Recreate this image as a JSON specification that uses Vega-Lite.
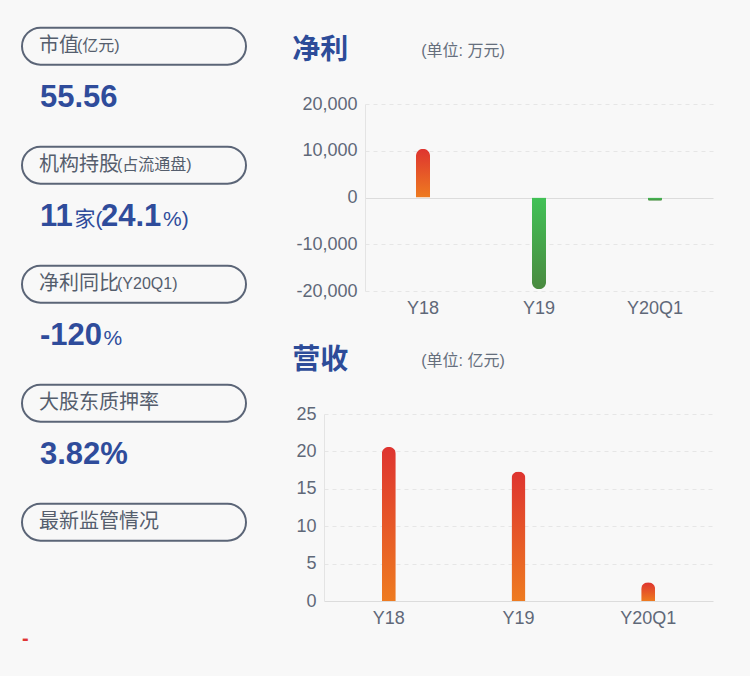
{
  "$schema": "https://vega.github.io/schema/vega-lite/v6.json",
  "background": "#f8f8f8",
  "padding": {"left": 21, "top": 26, "right": 37, "bottom": 0},
  "bounds": "flush",
  "spacing": 78,
  "config": {
    "view": {"stroke": null},
    "font": "Liberation Sans, Noto Sans CJK SC",
    "axis": {"labelFont": "Liberation Sans, Noto Sans CJK SC", "titleFont": "Liberation Sans, Noto Sans CJK SC"}
  },
  "hconcat": [
    {
      "width": 224,
      "height": 572,
      "data": {"values": [
        {"k": "1", "label": "市值", "suffix": "(亿元)", "v1": "55.56"},
        {"k": "2", "label": "机构持股", "suffix": "(占流通盘)", "v1": "11", "v2": "家(", "v3": "24.1", "v4": "%)"},
        {"k": "3", "label": "净利同比", "suffix": "(Y20Q1)", "v1": "-120", "v2": "%"},
        {"k": "4", "label": "大股东质押率", "v1": "3.82%"},
        {"k": "5", "label": "最新监管情况", "mark": "-"}
      ]},
      "encoding": {
        "y": {"field": "k", "type": "ordinal", "scale": {"range": [-76.3, 436.7], "paddingInner": 0.68908, "paddingOuter": 0}, "axis": null}
      },
      "layer": [
        {"mark": {"type": "rect", "filled": false, "stroke": "#5b6577", "strokeWidth": 2, "cornerRadius": 18.5},
         "encoding": {"x": {"value": 0}, "x2": {"value": "width"}}},
        {"mark": {"type": "text", "align": "left", "baseline": "middle", "fontSize": 20, "color": "#555e6d"},
         "encoding": {"x": {"value": 17}, "text": {"field": "label"}}},
        {"transform": [{"filter": "datum.k == '1'"}],
         "mark": {"type": "text", "align": "left", "baseline": "middle", "fontSize": 16, "color": "#555e6d"},
         "encoding": {"x": {"value": 55}, "text": {"field": "suffix"}}},
        {"transform": [{"filter": "datum.k == '2' || datum.k == '3'"}],
         "mark": {"type": "text", "align": "left", "baseline": "middle", "fontSize": 16, "color": "#555e6d"},
         "encoding": {"x": {"value": 95}, "text": {"field": "suffix"}}},
        {"transform": [{"filter": "isValid(datum.v1)"}],
         "mark": {"type": "text", "align": "left", "baseline": "alphabetic", "dy": 60.5, "fontSize": 31, "fontWeight": "bold", "color": "#2f4c9b"},
         "encoding": {"x": {"value": 18}, "text": {"field": "v1"}}},
        {"transform": [{"filter": "datum.k == '2'"}],
         "mark": {"type": "text", "align": "left", "baseline": "alphabetic", "dy": 60.5, "fontSize": 21, "color": "#2f4c9b"},
         "encoding": {"x": {"value": 52.5}, "text": {"field": "v2"}}},
        {"transform": [{"filter": "datum.k == '2'"}],
         "mark": {"type": "text", "align": "left", "baseline": "alphabetic", "dy": 60.5, "fontSize": 31, "fontWeight": "bold", "color": "#2f4c9b"},
         "encoding": {"x": {"value": 79}, "text": {"field": "v3"}}},
        {"transform": [{"filter": "datum.k == '2'"}],
         "mark": {"type": "text", "align": "left", "baseline": "alphabetic", "dy": 60.5, "fontSize": 21, "color": "#2f4c9b"},
         "encoding": {"x": {"value": 141}, "text": {"field": "v4"}}},
        {"transform": [{"filter": "datum.k == '3'"}],
         "mark": {"type": "text", "align": "left", "baseline": "alphabetic", "dy": 60.5, "fontSize": 21, "color": "#2f4c9b"},
         "encoding": {"x": {"value": 81.5}, "text": {"field": "v2"}}},
        {"transform": [{"filter": "datum.k == '5'"}],
         "mark": {"type": "text", "align": "left", "baseline": "middle", "dy": 116.5, "fontSize": 20, "fontWeight": "bold", "color": "#e03535"},
         "encoding": {"x": {"value": 0}, "text": {"field": "mark"}}}
      ]
    },
    {
      "bounds": "flush",
      "spacing": 123,
      "vconcat": [
        {
          "width": 389,
          "height": 187,
          "data": {"values": [
            {"period": "Y18", "profit": 10400},
            {"period": "Y19", "profit": -19600},
            {"period": "Y20Q1", "profit": -700}
          ]},
          "encoding": {
            "x": {"field": "period", "type": "nominal", "sort": null,
              "scale": {"domain": ["Y18", "Y19", "Y20Q1"], "range": [41, 389], "paddingInner": 0, "paddingOuter": 0},
              "axis": {"title": "(单位: 万元)", "titleX": 96.7, "titleY": -241, "titleAngle": 0, "titleAlign": "left", "titleBaseline": "middle",
                "titleFontSize": 16, "titleFontWeight": "normal", "titleColor": "#666f7d",
                "labelAngle": 0, "labelFontSize": 18, "labelColor": "#5f6878", "labelPadding": 8, "ticks": false, "tickSize": 0, "domain": false, "grid": false}},
            "y": {"field": "profit", "type": "quantitative",
              "scale": {"domain": [-20000, 20000], "nice": false},
              "axis": {"title": "净利", "titleX": -73.3, "titleY": -53.3, "titleAngle": 0, "titleAlign": "left", "titleBaseline": "middle",
                "titleFontSize": 28, "titleFontWeight": "bold", "titleColor": "#2d4c99",
                "offset": -41, "values": [-20000, -10000, 0, 10000, 20000],
                "labelExpr": "replace(format(datum.value, ','), '−', '-')",
                "labelFontSize": 18, "labelColor": "#5f6878", "labelPadding": 8, "ticks": false, "tickSize": 0,
                "domain": true, "domainColor": "#e4e4e4",
                "grid": true,
                "gridColor": {"condition": {"test": "datum.value === 0", "value": "#dcdcdc"}, "value": "#e6e6e6"},
                "gridDash": {"condition": {"test": "datum.value === 0", "value": []}, "value": [4, 4]}}}
          },
          "layer": [
            {"transform": [{"filter": "datum.profit >= 0"}],
             "mark": {"type": "bar", "width": 14, "cornerRadiusTopLeft": 7, "cornerRadiusTopRight": 7,
               "fill": {"gradient": "linear", "x1": 0, "y1": 0, "x2": 0, "y2": 1, "stops": [{"offset": 0, "color": "#de3430"}, {"offset": 1, "color": "#ee7b20"}]}}},
            {"transform": [{"filter": "datum.profit < 0"}],
             "mark": {"type": "bar", "width": 14, "cornerRadiusBottomLeft": 7, "cornerRadiusBottomRight": 7,
               "fill": {"gradient": "linear", "x1": 0, "y1": 0, "x2": 0, "y2": 1, "stops": [{"offset": 0, "color": "#41c156"}, {"offset": 1, "color": "#4a8a40"}]}}}
          ]
        },
        {
          "width": 389,
          "height": 187,
          "data": {"values": [
            {"period": "Y18", "revenue": 20.6},
            {"period": "Y19", "revenue": 17.3},
            {"period": "Y20Q1", "revenue": 2.5}
          ]},
          "encoding": {
            "x": {"field": "period", "type": "nominal", "sort": null,
              "scale": {"paddingInner": 0, "paddingOuter": 0},
              "axis": {"title": "(单位: 亿元)", "titleX": 96.7, "titleY": -241, "titleAngle": 0, "titleAlign": "left", "titleBaseline": "middle",
                "titleFontSize": 16, "titleFontWeight": "normal", "titleColor": "#666f7d",
                "labelAngle": 0, "labelFontSize": 18, "labelColor": "#5f6878", "labelPadding": 8, "ticks": false, "tickSize": 0, "domain": false, "grid": false}},
            "y": {"field": "revenue", "type": "quantitative",
              "scale": {"domain": [0, 25], "nice": false},
              "axis": {"title": "营收", "titleX": -32.3, "titleY": -53.3, "titleAngle": 0, "titleAlign": "left", "titleBaseline": "middle",
                "titleFontSize": 28, "titleFontWeight": "bold", "titleColor": "#2d4c99",
                "values": [0, 5, 10, 15, 20, 25],
                "labelFontSize": 18, "labelColor": "#5f6878", "labelPadding": 8, "ticks": false, "tickSize": 0,
                "domain": true, "domainColor": "#e4e4e4",
                "grid": true,
                "gridColor": {"condition": {"test": "datum.value === 0", "value": "#dcdcdc"}, "value": "#e6e6e6"},
                "gridDash": {"condition": {"test": "datum.value === 0", "value": []}, "value": [4, 4]}}}
          },
          "layer": [
            {"mark": {"type": "bar", "width": 14, "cornerRadiusTopLeft": 7, "cornerRadiusTopRight": 7,
               "fill": {"gradient": "linear", "x1": 0, "y1": 0, "x2": 0, "y2": 1, "stops": [{"offset": 0, "color": "#de3430"}, {"offset": 1, "color": "#ee7b20"}]}}}
          ]
        }
      ]
    }
  ]
}
